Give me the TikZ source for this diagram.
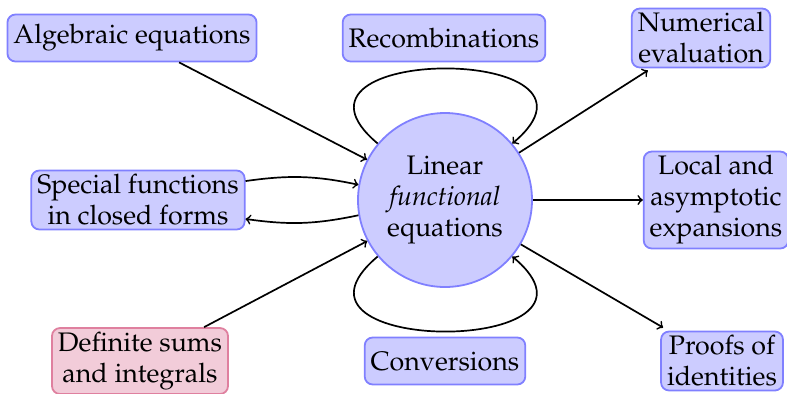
\documentclass[tikz,border=0pt]{standalone}
\usepackage[T1]{fontenc}
\usepackage{mathpazo}
\usetikzlibrary{calc}

\begin{document}
\begin{tikzpicture}[x=0.5pt,y=-0.5pt,
  every node/.style={font=\fontsize{13.4}{15.5}\selectfont},
  box/.style={draw=blue!50, fill=blue!20, rounded corners=4pt, line width=0.9pt,
    align=center, inner xsep=3pt, inner ysep=2pt, minimum height=23.5pt},
  pinkbox/.style={box, draw=purple!50, fill=purple!20},
  hub/.style={circle, draw=blue!50, fill=blue!20, line width=0.9pt,
    align=center, minimum size=87pt, inner sep=0pt},
  link/.style={->, line width=0.85pt, black}]
\useasboundingbox (0,0) rectangle (787,393);

% central node
\node[hub] (lin) at (445,200) {Linear\\\textit{functional}\\equations};

% surrounding boxes
\node[box] (alg) at (132,38) {Algebraic equations};
\node[box] (rec) at (444,38) {Recombinations};
\node[box] (num) at (701,38) {Numerical\\evaluation};
\node[box] (spe) at (138,200) {Special functions\\in closed forms};
\node[box] (loc) at (716,200) {Local and\\asymptotic\\expansions};
\node[pinkbox] (def) at (140,361) {Definite sums\\and integrals};
\node[box] (con) at (445,361) {Conversions};
\node[box] (pro) at (722,361) {Proofs of\\identities};

% connectors
\draw[link] (alg) -- (lin);
\draw[link] (lin) -- ([xshift=8.5pt,yshift=-1pt]num.south west);
\draw[link] (lin) -- (loc);
\draw[link] (lin) -- ([xshift=1.5pt,yshift=1.5pt]pro.north west);
\draw[link] (def) -- (lin);
\draw[link] (spe) to[bend left=10] (lin);
\draw[link] (lin) to[bend left=10] (spe);

% self loops
\draw[link] (lin.140) .. controls +(140:77.75pt) and +(40:77.75pt) .. (lin.40);
\draw[link] (lin.220) .. controls +(220:77.75pt) and +(320:77.75pt) .. (lin.320);
\end{tikzpicture}
\end{document}
